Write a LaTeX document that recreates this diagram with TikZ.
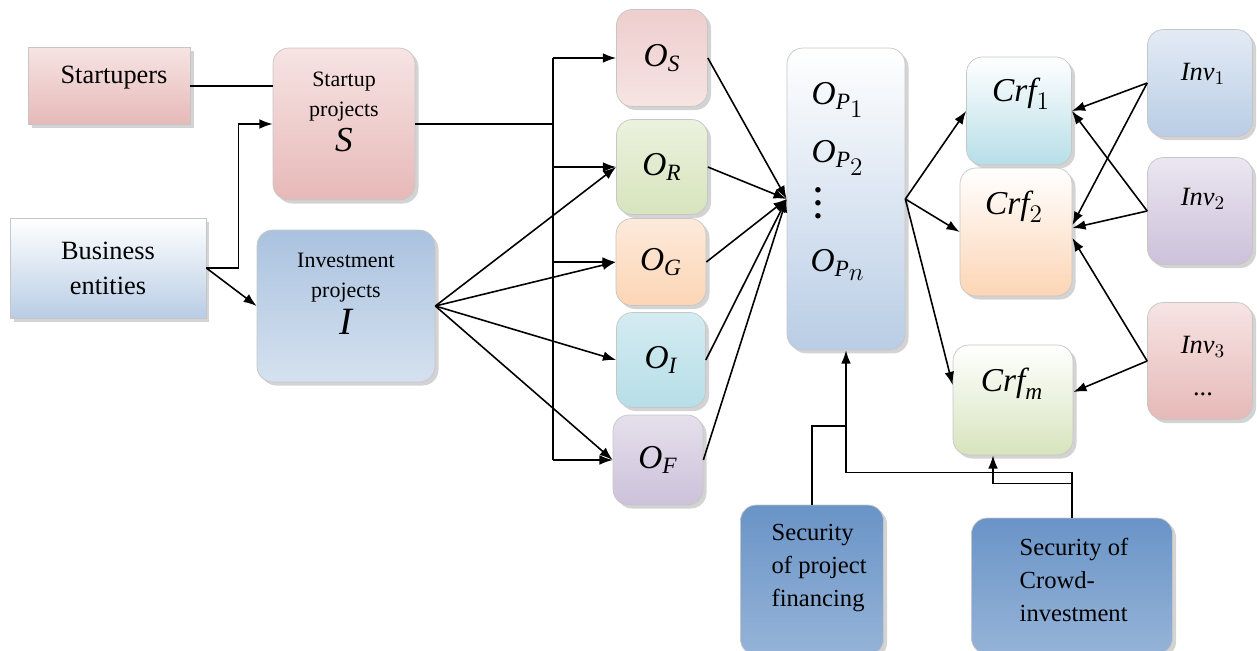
\documentclass[tikz,border=0pt]{standalone}
\usepackage{fontspec}
\setmainfont{Liberation Serif}
\usetikzlibrary{arrows.meta,shadows}

\definecolor{pinkD}{HTML}{E6B9B8}
\definecolor{pinkL}{HTML}{F6E4E3}
\definecolor{blueD}{HTML}{B9CDE5}
\definecolor{blueM}{HTML}{95B3D7}
\definecolor{greenD}{HTML}{D7E4BD}
\definecolor{orangeD}{HTML}{FCD5B5}
\definecolor{cyanD}{HTML}{B7DEE8}
\definecolor{purpleD}{HTML}{CCC1DA}
\definecolor{navyD}{HTML}{4F81BD}

\begin{document}
\begin{tikzpicture}[x=0.02cm,y=-0.02cm,->,>={Latex[length=7.5pt,width=5.5pt]},line width=0.9pt,
        box/.style={draw=gray!45,thin,inner sep=0pt,align=center,
            drop shadow={opacity=0.35,shadow xshift=2pt,shadow yshift=-2pt}},
        rbox/.style={box,rounded corners=9pt},
        big/.style={font=\fontsize{15}{20}\selectfont},
        mid/.style={font=\fontsize{12.5}{17}\selectfont},
        sym/.style={font=\fontsize{19}{22}\selectfont,inner sep=1pt},
        sec/.style={font=\fontsize{14}{19}\selectfont,align=left}]
                \useasboundingbox (0,0) rectangle (1257,650);

                % sources
                \node[box,top color=pinkL,bottom color=pinkD,minimum width=3.24cm,minimum height=1.54cm](startupers)at(109, 86){};
                \node[big](startupers-t)at(114, 78){Startupers};
                \node[box,top color=white,bottom color=blueD,minimum width=3.92cm,minimum height=2cm,big](business)at(108, 268){Business\\entities};

                % projects
                \node[rbox,top color=pinkL,bottom color=pinkD,minimum width=2.84cm,minimum height=3.04cm](startup)at(344, 124){};
                \node[mid,align=center](startup-t)at(344, 112){Startup\\projects\\[3pt]{\fontsize{20}{20}\selectfont$\mathit{S}$}};
                \node[rbox,top color=blueM!80,bottom color=blueD!60,minimum width=3.56cm,minimum height=3.04cm](invest)at(346, 306){};
                \node[mid,align=center](invest-t)at(346, 294){Investment\\projects\\[3pt]{\fontsize{22}{22}\selectfont$\mathit{I}$}};

                % offers
                \node[rbox,top color=pinkD!70,bottom color=pinkL,minimum width=1.82cm,minimum height=1.94cm,sym](os)at(662, 58){$\mathit{O}_{\mathit{S}}$};
                \node[rbox,top color=greenD!50,bottom color=greenD,minimum width=1.82cm,minimum height=1.9cm,sym](or)at(662, 167){$\mathit{O}_{\mathit{R}}$};
                \node[rbox,top color=orangeD!50,bottom color=orangeD,minimum width=1.8cm,minimum height=1.74cm,sym](og)at(661, 262){$\mathit{O}_{\mathit{G}}$};
                \node[rbox,top color=cyanD!60,bottom color=cyanD,minimum width=1.78cm,minimum height=1.9cm,sym](oi)at(661, 360){$\mathit{O}_{\mathit{I}}$};
                \node[rbox,top color=purpleD!50,bottom color=purpleD,minimum width=1.8cm,minimum height=1.8cm,sym](of)at(658, 460){$\mathit{O}_{\mathit{F}}$};

                % platform offers
                \node[rbox,top color=white,bottom color=blueD,minimum width=2.36cm,minimum height=6.04cm](op)at(846, 199){};
                \node[sym](op1)at(838, 100){$\mathit{O}_{\mathit{P}_{\scriptstyle 1}}$};
                \node[sym](op2)at(838, 158){$\mathit{O}_{\mathit{P}_{\scriptstyle 2}}$};
                \node[sym,font=\bfseries\fontsize{19}{7.5}\selectfont,align=center,inner sep=0pt](opd)at(818, 203){.\\.\\.};
                \node[sym](opn)at(838, 265){$\mathit{O}_{\mathit{P}_{\scriptstyle n}}$};

                % crowdfunding platforms
                \node[rbox,top color=white,bottom color=cyanD,minimum width=2.1cm,minimum height=2.16cm](crf1)at(1019, 111){};
                \node[sym](crf1-t)at(1021, 94){$\mathit{Crf}_1$};
                \node[rbox,top color=white,bottom color=orangeD,minimum width=2.24cm,minimum height=2.56cm](crf2)at(1016, 232){};
                \node[sym](crf2-t)at(1014, 207){$\mathit{Crf}_2$};
                \node[rbox,top color=white,bottom color=greenD,minimum width=2.4cm,minimum height=2.2cm](crfm)at(1013, 400){};
                \node[sym](crfm-t)at(1012, 384){$\mathit{Crf}_{\mathit{m}}$};

                % investors
                \node[rbox,top color=blueD!40,bottom color=blueD,minimum width=2.1cm,minimum height=2.14cm](inv1)at(1200, 83){};
                \node[big](inv1-t)at(1203, 74){$\mathit{Inv}_1$};
                \node[rbox,top color=purpleD!40,bottom color=purpleD,minimum width=2.1cm,minimum height=2.14cm](inv2)at(1200, 211){};
                \node[big](inv2-t)at(1203, 199){$\mathit{Inv}_2$};
                \node[rbox,top color=pinkL,bottom color=pinkD,minimum width=2.1cm,minimum height=2.34cm](inv3)at(1200, 361){};
                \node[big,align=center](inv3-t)at(1203, 366){$\mathit{Inv}_3$\\[4pt]...};

                % security
                \node[rbox,top color=navyD!85,bottom color=navyD!60,minimum width=2.86cm,minimum height=3cm](secfin)at(812, 580){};
                \node[sec,anchor=west](secfin-t)at(765, 568){Security\\of project\\financing};
                \node[rbox,top color=navyD!85,bottom color=navyD!60,minimum width=4.02cm,minimum height=2.72cm](seccrowd)at(1072, 586){};
                \node[sec,anchor=west](seccrowd-t)at(1013, 580){Security of\\Crowd-\\investment};

                % connectors
                \path[-] (startupers.east) edge (startupers.east -| startup.west);
                \draw (business.east) -- ++(32, 0) |- (startup.west);
                \draw (business.east) -- (invest.west);

                \coordinate (trunk) at (553, 124);
                \draw[-] (startup.east) -- (trunk);
                \draw[-] (trunk |- os.west) -- (trunk |- of.west);
                \foreach \o in {os,or,og,of}
                    \draw (trunk |- \o.west) -- (\o.west);
                \foreach \o in {or,og,oi,of}
                    \draw (invest.east) -- (\o.west);

                \foreach \o in {os,or,og,oi,of}
                    \draw (\o.east) -- (op.west);

                \draw (op.east) -- (crf1.west);
                \draw (op.east) -- (crf2.west);
                \draw (op.east) -- ([yshift=0.3cm]crfm.west);

                \draw (inv1.west) -- (crf1.east);
                \draw (inv1.west) -- ([yshift=0.14cm]crf2.east);
                \draw (inv2.west) -- (crf1.east);
                \draw (inv2.west) -- ([yshift=0.08cm]crf2.east);
                \draw (inv3.west) -- ([yshift=-0.12cm]crf2.east);
                \draw (inv3.west) -- ([yshift=0.16cm]crfm.east);

                \coordinate (join) at (846, 426);
                \draw[-] (secfin.north) |- (join);
                \draw (join) -- (op.south);
                \draw[-] (seccrowd.north) -- ++(0, -45) -| (join);
                \draw (seccrowd.north) -- ++(0, -34) -| ([xshift=-0.4cm]crfm.south);
            \end{tikzpicture}
\end{document}
